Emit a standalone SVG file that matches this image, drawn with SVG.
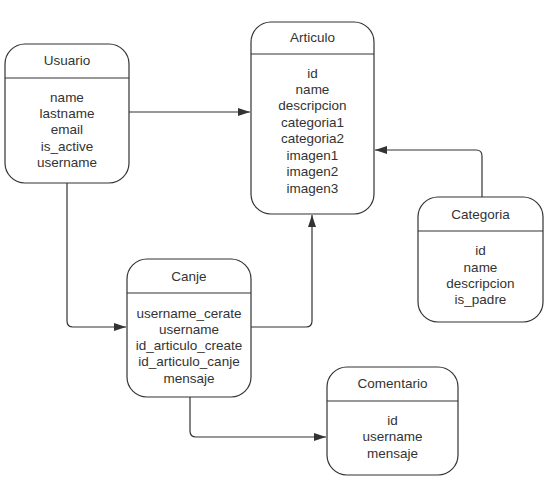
<svg xmlns="http://www.w3.org/2000/svg" width="554" height="493" viewBox="0 0 554 493">
  <style>
    .box { fill: #ffffff; stroke: #333333; stroke-width: 1.2; }
    .div { stroke: #333333; stroke-width: 1.2; }
    .edge { fill: none; stroke: #333333; stroke-width: 1.2; }
    text { font-family: "Liberation Sans", Arial, sans-serif; font-size: 13.5px; fill: #333333; text-anchor: middle; }
  </style>
  <defs>
    <marker id="arrow" viewBox="0 0 12 10" refX="12" refY="5" markerWidth="12" markerHeight="10" markerUnits="userSpaceOnUse" orient="auto">
      <path d="M0,1 L12,5 L0,9 Z" fill="#333333"/>
    </marker>
  </defs>

  <g id="connectors">
    <!-- Usuario -> Articulo -->
    <path class="edge" d="M129,112 H250" marker-end="url(#arrow)"/>
    <!-- Categoria -> Articulo -->
    <path class="edge" d="M482,197 V156 Q482,150 476,150 H375" marker-end="url(#arrow)"/>
    <!-- Canje -> Articulo -->
    <path class="edge" d="M251,327 H306 Q312,327 312,321 V215" marker-end="url(#arrow)"/>
    <!-- Usuario -> Canje -->
    <path class="edge" d="M67,183 V321 Q67,327 73,327 H126" marker-end="url(#arrow)"/>
    <!-- Canje -> Comentario -->
    <path class="edge" d="M190,397 V431 Q190,437 196,437 H326" marker-end="url(#arrow)"/>
  </g>

  <g id="usuario">
    <rect class="box" x="5" y="44" width="124" height="139" rx="20"/>
    <line class="div" x1="5" y1="78" x2="129" y2="78"/>
    <text x="67" y="65">Usuario</text>
    <text x="67" y="102">name</text>
    <text x="67" y="118">lastname</text>
    <text x="67" y="134">email</text>
    <text x="67" y="151">is_active</text>
    <text x="67" y="167">username</text>
  </g>

  <g id="articulo">
    <rect class="box" x="251" y="22" width="123" height="192" rx="20"/>
    <line class="div" x1="251" y1="54" x2="374" y2="54"/>
    <text x="312.5" y="42">Articulo</text>
    <text x="312.5" y="78">id</text>
    <text x="312.5" y="94">name</text>
    <text x="312.5" y="110">descripcion</text>
    <text x="312.5" y="127">categoria1</text>
    <text x="312.5" y="143">categoria2</text>
    <text x="312.5" y="160">imagen1</text>
    <text x="312.5" y="176">imagen2</text>
    <text x="312.5" y="193">imagen3</text>
  </g>

  <g id="categoria">
    <rect class="box" x="418" y="197" width="125" height="125" rx="20"/>
    <line class="div" x1="418" y1="231" x2="543" y2="231"/>
    <text x="480.5" y="219">Categoria</text>
    <text x="480.5" y="255">id</text>
    <text x="480.5" y="272">name</text>
    <text x="480.5" y="288">descripcion</text>
    <text x="480.5" y="304">is_padre</text>
  </g>

  <g id="canje">
    <rect class="box" x="127" y="259" width="124" height="138" rx="20"/>
    <line class="div" x1="127" y1="293" x2="251" y2="293"/>
    <text x="189" y="281">Canje</text>
    <text x="189" y="318">username_cerate</text>
    <text x="189" y="334">username</text>
    <text x="189" y="350">id_articulo_create</text>
    <text x="189" y="366">id_articulo_canje</text>
    <text x="189" y="383">mensaje</text>
  </g>

  <g id="comentario">
    <rect class="box" x="327" y="367" width="131" height="108" rx="20"/>
    <line class="div" x1="327" y1="401" x2="458" y2="401"/>
    <text x="392.5" y="388">Comentario</text>
    <text x="392.5" y="425">id</text>
    <text x="392.5" y="441">username</text>
    <text x="392.5" y="458">mensaje</text>
  </g>
</svg>
